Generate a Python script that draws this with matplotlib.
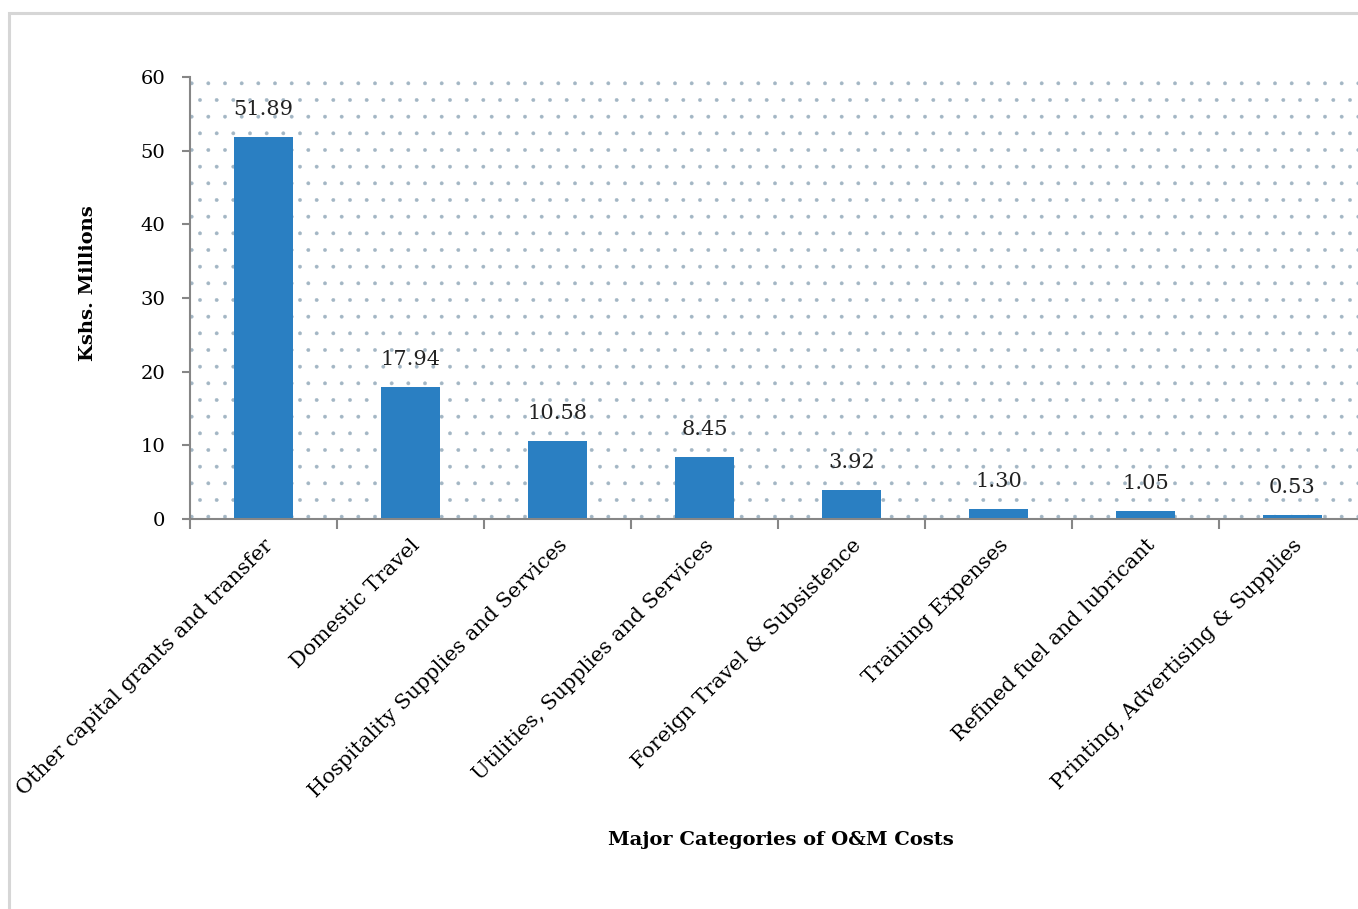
import matplotlib.pyplot as plt
from matplotlib.patches import Rectangle

categories = [
    "Other capital grants and transfer",
    "Domestic Travel",
    "Hospitality Supplies and Services",
    "Utilities, Supplies and Services",
    "Foreign Travel & Subsistence",
    "Training Expenses",
    "Refined fuel and lubricant",
    "Printing, Advertising & Supplies",
]
values = [51.89, 17.94, 10.58, 8.45, 3.92, 1.30, 1.05, 0.53]
y_ticks = [0, 10, 20, 30, 40, 50, 60]

plt.rcParams["font.family"] = ["DejaVu Serif"]
plt.rcParams["hatch.linewidth"] = 0.3

fig = plt.figure(figsize=(13.58, 9.09), dpi=100)
W, H = 1358, 909

# light frame around the whole chart
fig.patches.append(Rectangle((9 / W, -0.05), 1.1, 1 - 13 / H + 0.05,
                             transform=fig.transFigure, fill=False,
                             edgecolor="#d6d6d6", linewidth=2.2))

ax = fig.add_axes([190 / W, 1 - 519 / H, 1176 / W, 442 / H])
ax.set_facecolor("white")

# dotted plot-area fill
ax.add_patch(Rectangle((0, 0), 1, 1, transform=ax.transAxes, facecolor="none",
                       edgecolor="#a3b6c4", linewidth=0, hatch=".", zorder=0.5))

x = range(len(categories))
bars = ax.bar(x, values, width=0.4, color="#2a7fc2", zorder=2)
for xi, v in zip(x, values):
    ax.annotate(f"{v:.2f}", (xi, v), xytext=(0, 13), textcoords="offset points",
                ha="center", va="bottom", fontsize=15, color="#222222")

ax.set_xlim(-0.5, len(categories) - 0.5)
ax.set_ylim(0, 60)
ax.set_yticks(y_ticks)
ax.tick_params(axis="y", labelsize=14, length=6, width=1.5, color="#868686",
               direction="out", pad=12)

# boundary ticks between categories, labels at centers
ax.set_xticks([i - 0.5 for i in range(len(categories) + 1)])
ax.set_xticklabels([])
ax.tick_params(axis="x", which="major", length=7, width=1.5, color="#868686")
ax.set_xticks(list(x), minor=True)
ax.set_xticklabels(categories, minor=True, rotation=45, ha="right",
                   rotation_mode="anchor", fontsize=15)
ax.tick_params(axis="x", which="minor", length=0, pad=12)

for s in ["top", "right"]:
    ax.spines[s].set_visible(False)
for s in ["left", "bottom"]:
    ax.spines[s].set_color("#868686")
    ax.spines[s].set_linewidth(1.5)

fig.text(781 / W, 1 - 840 / H, "Major Categories of O&M Costs", ha="center",
         va="center", fontsize=14, fontweight="bold")
fig.text(88 / W, 1 - 283 / H, "Kshs. Millions", ha="center", va="center",
         rotation=90, fontsize=14, fontweight="bold")

fig.savefig("out.png", dpi=100)
